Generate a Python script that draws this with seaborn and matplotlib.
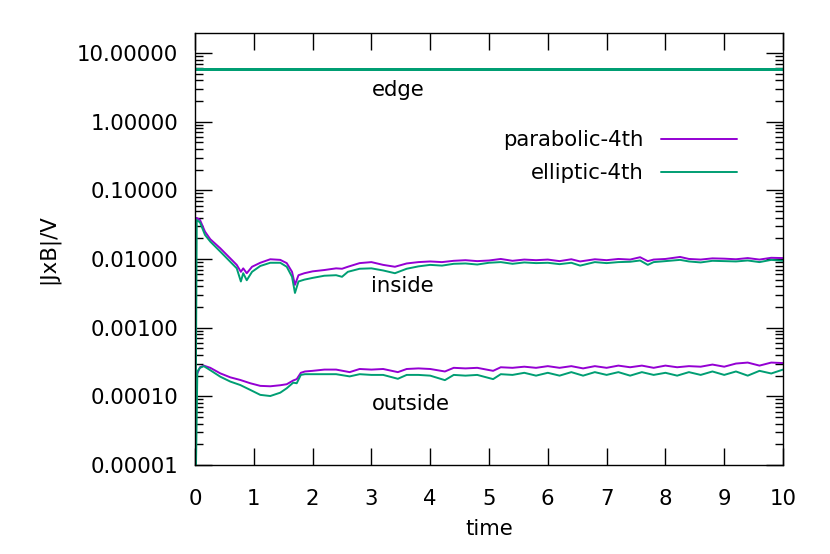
import numpy as np
import pandas as pd
import matplotlib
matplotlib.use("Agg")
import matplotlib.pyplot as plt
import seaborn as sns
from matplotlib.lines import Line2D
from matplotlib.ticker import FixedLocator, LogLocator, NullLocator, FuncFormatter

# ---------------- data ----------------
methods = ["parabolic-4th", "elliptic-4th"]
palette = {"parabolic-4th": "#9400D3", "elliptic-4th": "#009E73"}

t_edge = [0.0, 0.3, 0.5, 0.7, 0.9, 1.1, 1.3, 2.5, 6.8, 10.0]
edge_par = [5.7, 5.8, 5.65, 5.8, 5.7, 5.8, 5.7, 5.7, 5.7, 5.7]
edge_ell = [5.7, 5.75, 5.7, 5.75, 5.7, 5.75, 5.7, 5.7, 5.7, 5.7]

t_in = [0.0, 0.03, 0.085, 0.17, 0.26, 0.43, 0.6, 0.71, 0.78, 0.82, 0.88, 0.97,
        1.11, 1.28, 1.45, 1.56, 1.65, 1.70, 1.76, 1.86, 2.0,
        2.2, 2.4, 2.5, 2.6, 2.8, 3.0, 3.2, 3.4, 3.6, 3.8, 4.0, 4.2, 4.4, 4.6, 4.8,
        5.0, 5.2, 5.4, 5.6, 5.8, 6.0, 6.2, 6.4, 6.55, 6.8, 7.0, 7.2, 7.4, 7.57,
        7.7, 7.8, 8.0, 8.25, 8.4, 8.6, 8.8, 9.0, 9.2, 9.4, 9.6, 9.8, 10.0]
in_par = [0.0392, 0.0395, 0.037, 0.025, 0.0194, 0.0143, 0.0102, 0.0082, 0.0065, 0.0073, 0.0062, 0.0077,
          0.0088, 0.0099, 0.0097, 0.0087, 0.0065, 0.0042, 0.0058, 0.0062, 0.0066,
          0.0069, 0.0073, 0.0072, 0.0077, 0.0087, 0.0090, 0.0082, 0.0077, 0.0086, 0.0090, 0.0092, 0.0090, 0.0094, 0.0096, 0.0093,
          0.0095, 0.0100, 0.0094, 0.0098, 0.0096, 0.0098, 0.0093, 0.0099, 0.0092, 0.0099, 0.0096, 0.0100, 0.0098, 0.0106,
          0.0093, 0.0098, 0.0100, 0.0107, 0.0100, 0.0098, 0.0102, 0.0101, 0.0099, 0.0103, 0.0098, 0.0104, 0.0103]
in_ell = [1e-6, 0.037, 0.034, 0.0224, 0.0179, 0.0128, 0.0091, 0.0073, 0.0047, 0.0062, 0.0049, 0.0065,
          0.0079, 0.0088, 0.0088, 0.0077, 0.0055, 0.0032, 0.0047, 0.0050, 0.0053,
          0.0057, 0.0058, 0.0055, 0.0065, 0.0072, 0.0073, 0.0068, 0.0062, 0.0072, 0.0078, 0.0082, 0.0080, 0.0085, 0.0086, 0.0083,
          0.0088, 0.0090, 0.0085, 0.0089, 0.0087, 0.0088, 0.0084, 0.0088, 0.0080, 0.0090, 0.0087, 0.0090, 0.0091, 0.0095,
          0.0082, 0.0090, 0.0093, 0.0097, 0.0092, 0.0089, 0.0094, 0.0093, 0.0092, 0.0095, 0.0090, 0.0097, 0.0094]

t_out = [0.0, 0.04, 0.085, 0.15, 0.26, 0.43, 0.6, 0.77, 0.94, 1.11, 1.28, 1.45, 1.56, 1.67, 1.73,
         1.80, 1.87, 2.0, 2.2, 2.4, 2.63, 2.8, 3.0, 3.2, 3.45, 3.6, 3.8, 4.0, 4.25, 4.4, 4.6, 4.8,
         5.07, 5.2, 5.4, 5.6, 5.8, 6.0, 6.2, 6.4, 6.6, 6.8, 7.0, 7.2, 7.4, 7.6, 7.8, 8.0, 8.2, 8.4,
         8.6, 8.8, 9.0, 9.2, 9.4, 9.6, 9.8, 10.0]
out_par = [2.0, 2.16, 2.65, 2.8, 2.6, 2.16, 1.89, 1.73, 1.55, 1.42, 1.40, 1.45, 1.50, 1.70, 1.78,
           2.2, 2.3, 2.35, 2.45, 2.45, 2.25, 2.5, 2.45, 2.5, 2.25, 2.5, 2.55, 2.5, 2.3, 2.6, 2.55, 2.6,
           2.35, 2.65, 2.6, 2.7, 2.6, 2.75, 2.6, 2.75, 2.55, 2.75, 2.6, 2.8, 2.65, 2.8, 2.6, 2.8, 2.65, 2.75,
           2.7, 2.9, 2.7, 3.0, 3.1, 2.8, 3.1, 3.05]
out_ell = [0.01, 2.3, 2.6, 2.75, 2.4, 1.93, 1.64, 1.46, 1.24, 1.05, 1.01, 1.13, 1.31, 1.58, 1.55,
           2.05, 2.1, 2.1, 2.1, 2.1, 1.95, 2.1, 2.05, 2.05, 1.8, 2.05, 2.05, 2.0, 1.72, 2.05, 2.0, 2.05,
           1.78, 2.1, 2.05, 2.2, 2.0, 2.2, 2.0, 2.25, 2.0, 2.25, 2.05, 2.25, 2.0, 2.25, 2.05, 2.2, 2.0, 2.25,
           2.05, 2.3, 2.05, 2.3, 2.0, 2.35, 2.15, 2.45]
out_scale = 1e-4

region_labels = ["edge", "inside", "outside"]
label_x = [3.0, 3.0, 3.0]
label_y = [2.9, 0.0041, 7.8e-5]

y_ticks = [1e-5, 1e-4, 1e-3, 1e-2, 1e-1, 1.0, 10.0]
x_ticks = [0, 1, 2, 3, 4, 5, 6, 7, 8, 9, 10]

# ---------------- build table ----------------
rows = []
def add(ts, vs, method, region, scale=1.0):
    for t, v in zip(ts, vs):
        rows.append({"time": t, "value": v * scale, "method": method, "region": region})

add(t_edge, edge_par, "parabolic-4th", "edge")
add(t_in, in_par, "parabolic-4th", "inside")
add(t_out, out_par, "parabolic-4th", "outside", out_scale)
add(t_edge, edge_ell, "elliptic-4th", "edge")
add(t_in, in_ell, "elliptic-4th", "inside")
add(t_out, out_ell, "elliptic-4th", "outside", out_scale)
df = pd.DataFrame(rows)

# ---------------- plot ----------------
sns.set_style("ticks")
plt.rcParams["font.family"] = ["DejaVu Sans"]
plt.rcParams["text.color"] = "black"
plt.rcParams["axes.labelcolor"] = "black"
plt.rcParams["xtick.color"] = "black"
plt.rcParams["ytick.color"] = "black"
fs = 15.3

fig = plt.figure(figsize=(8.3, 5.54), dpi=100)
ax = fig.add_axes([195 / 830, 1 - 465 / 554, 588 / 830, 432 / 554])

# inner regions (antialiased)
sns.lineplot(data=df[df.region != "edge"], x="time", y="value", hue="method", units="region",
             hue_order=methods, palette=palette, estimator=None, sort=False,
             linewidth=1.4, legend=False, ax=ax)
# edge region: both curves coincide; draw crisp so the top one is not blended
sns.lineplot(data=df[df.region == "edge"], x="time", y="value", hue="method", units="region",
             hue_order=methods, palette=palette, estimator=None, sort=False,
             linewidth=1.2, legend=False, ax=ax, antialiased=False)

ax.set_yscale("log")
ax.set_xlim(0, 10)
ax.set_ylim(1e-5, 19.5)

ax.xaxis.set_major_locator(FixedLocator(x_ticks))
ax.xaxis.set_minor_locator(NullLocator())
ax.yaxis.set_major_locator(FixedLocator(y_ticks))
ax.yaxis.set_minor_locator(LogLocator(base=10, subs=np.arange(2, 10), numticks=20))
ax.yaxis.set_major_formatter(FuncFormatter(lambda v, p: f"{v:.5f}"))
ax.xaxis.set_major_formatter(FuncFormatter(lambda v, p: f"{v:g}"))

ax.tick_params(which="both", direction="in", top=True, right=True, colors="black",
               labelsize=fs, labelcolor="black")
ax.tick_params(which="major", length=12, width=1.0)
ax.tick_params(which="minor", length=6, width=1.0)
ax.tick_params(axis="y", which="major", pad=12)
ax.tick_params(axis="x", which="major", pad=17)
for s in ax.spines.values():
    s.set_linewidth(1.0)
    s.set_color("black")
    s.set_visible(True)

ax.set_xlabel("time", fontsize=fs, labelpad=7.5, color="black")
ax.set_ylabel("|JxB|/V", fontsize=fs, labelpad=13, color="black")

for lab, lx, ly in zip(region_labels, label_x, label_y):
    ax.text(lx, ly, lab, fontsize=fs, ha="left", va="center", color="black")

handles = [Line2D([], [], color=palette[m], linewidth=1.4) for m in methods]
leg = ax.legend(handles, methods, loc="upper right", bbox_to_anchor=(0.937, 0.795),
                frameon=False, markerfirst=False, fontsize=fs, handlelength=3.6,
                handletextpad=0.8, labelspacing=0.62, borderaxespad=0)
for txt in leg.get_texts():
    txt.set_color("black")

fig.savefig("out.png", dpi=100)
